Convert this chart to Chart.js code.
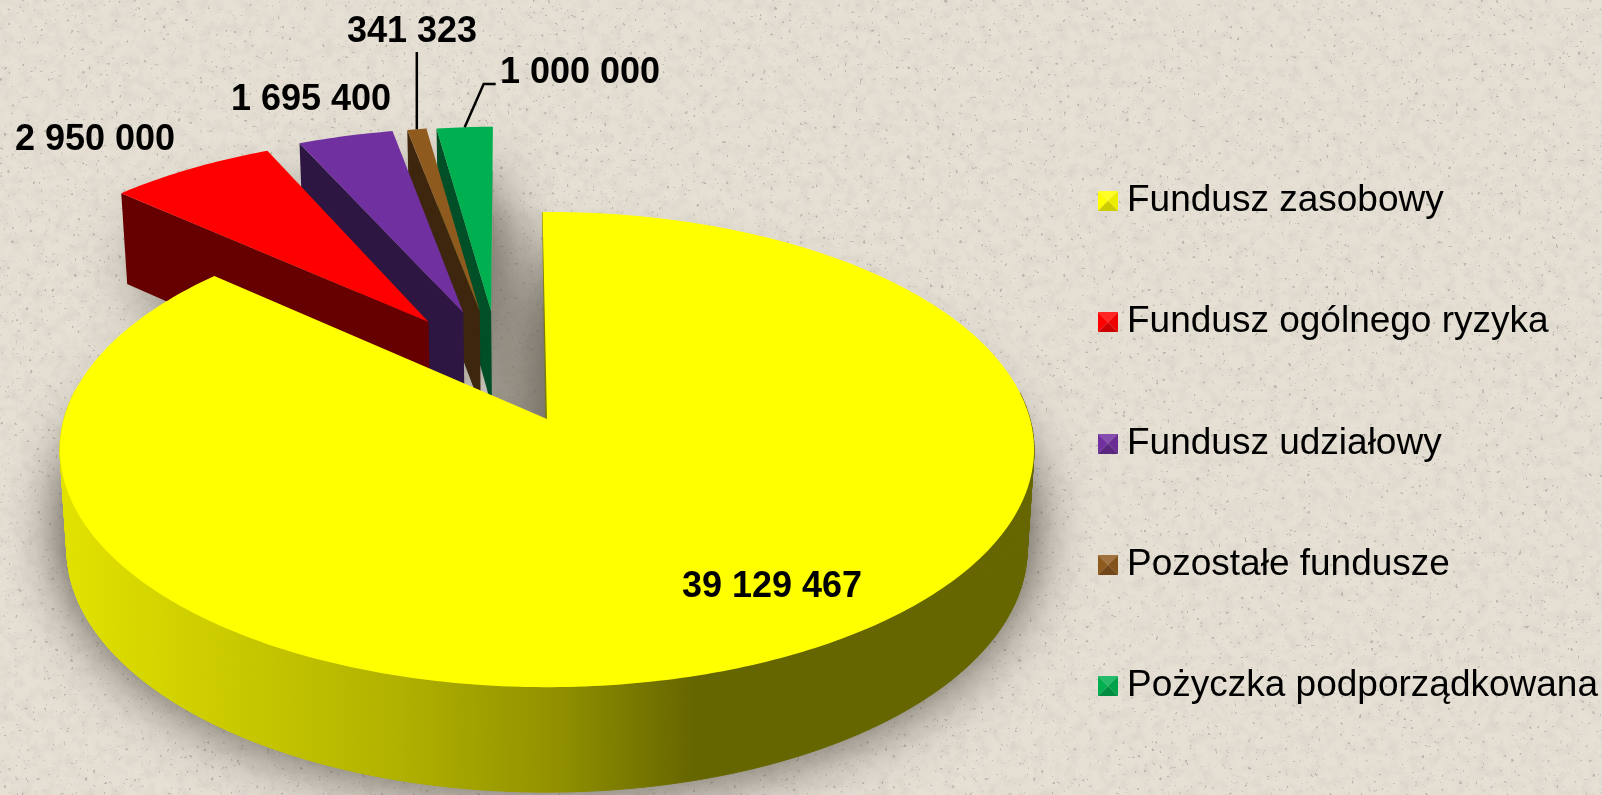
<!DOCTYPE html>
<html lang="pl"><head><meta charset="utf-8">
<style>
html,body{margin:0;padding:0;width:1602px;height:795px;overflow:hidden;background:#e3dcd1;}
#bg{position:absolute;left:0;top:0;width:1602px;height:795px;}
#wrap{position:absolute;left:0;top:0;width:1602px;height:795px;}
</style>
<script src="https://cdn.jsdelivr.net/npm/chart.js@4/dist/chart.umd.min.js"></script>
</head><body>
<svg id="bg" xmlns="http://www.w3.org/2000/svg" width="1602" height="795">
<filter id="mott" x="0" y="0" width="100%" height="100%">
<feTurbulence type="fractalNoise" baseFrequency="0.09" numOctaves="4" seed="7"/>
<feColorMatrix type="matrix" values="0 0 0 0 0.45  0 0 0 0 0.42  0 0 0 0 0.37  1.4 0 0 0 -0.58"/>
</filter>
<filter id="spk" x="0" y="0" width="100%" height="100%">
<feTurbulence type="fractalNoise" baseFrequency="0.27" numOctaves="2" seed="21"/>
<feColorMatrix type="matrix" values="0 0 0 0 0.3  0 0 0 0 0.28  0 0 0 0 0.24  12 0 0 0 -8.4"/>
</filter>
<rect width="1602" height="795" fill="#e5dfd4"/>
<rect width="1602" height="795" filter="url(#mott)" opacity="0.3"/>
<rect width="1602" height="795" filter="url(#spk)" opacity="0.5"/>
</svg>
<div id="wrap"><canvas id="c" width="1602" height="795"></canvas></div>
<script>
const categories = ['Fundusz zasobowy','Fundusz ogólnego ryzyka','Fundusz udziałowy','Pozostałe fundusze','Pożyczka podporządkowana'];
const values = [39129467, 2950000, 1695400, 341323, 1000000];
const valueLabels = ['39 129 467','2 950 000','1 695 400','341 323','1 000 000'];

const topColors  = ['#ffff00','#ff0000','#7030a0','#8f5a1e','#00b050'];
const wallColors = ['#666600','#660000','#2d1642','#3e250d','#004f26'];
const explode = [[0,0],[-0.259,0.439],[-0.184,0.483],[-0.148,0.49],[-0.123,0.49]];
const labelXY = [[772,597],[95,150],[311,110],[412,42],[580,83]];

const VIEW = {x0:547,y0:419,r:483,rs:233.7,p:0.1285,taper:0.014};
function proj(u,v,z){
  const w = 1+VIEW.p*v, h = 98.3-6.7*v;
  return [VIEW.x0+VIEW.r*u/w*(1-VIEW.taper*z), VIEW.y0-VIEW.rs*v/w+z*h];
}
function bevelMarker(color){
  const c=document.createElement('canvas');c.width=20;c.height=20;
  const g=c.getContext('2d');const n=20,m=10;
  const shade=(col,a,k)=>{g.fillStyle=col;g.fill();g.fillStyle=k;g.globalAlpha=a;g.fill();g.globalAlpha=1;};
  const tri=(pts,k,a)=>{g.beginPath();g.moveTo(...pts[0]);g.lineTo(...pts[1]);g.lineTo(...pts[2]);g.closePath();shade(color,a,k);};
  tri([[0,0],[n,0],[m,m]],'#ffffff',0.15);
  tri([[0,0],[0,n],[m,m]],'#000000',0.0);
  tri([[n,0],[n,n],[m,m]],'#000000',0.07);
  tri([[0,n],[n,n],[m,m]],'#000000',0.2);
  return c;
}
const markers = topColors.map(bevelMarker);

const pie3d = {
  id:'pie3d',
  afterLayout(chart){ chart.legend.left += 11; chart.legend.right += 11; },
  beforeDatasetDraw(chart,args){
    const ctx=chart.ctx, arcs=chart.getDatasetMeta(0).data;
    const slices=arcs.map((a,i)=>{
      const R=a.outerRadius, s=a.startAngle, e=a.endAngle;
      const pt=(ang,rr,z)=>proj(rr*Math.cos(ang)+explode[i][0],-rr*Math.sin(ang)+explode[i][1],z);
      const n=Math.max(6,Math.ceil((e-s)/0.015)), rim=[];
      for(let k=0;k<=n;k++) rim.push(s+(e-s)*k/n);
      return {i,s,e,pt,rim,R};
    });
    const path=(pts)=>{ctx.beginPath();pts.forEach((p,k)=>k?ctx.lineTo(p[0],p[1]):ctx.moveTo(p[0],p[1]));ctx.closePath();};
    const face=(sl,z)=>[sl.pt(0,0,z)].concat(sl.rim.map(a=>sl.pt(a,1,z)));

    // soft drop shadow
    ctx.save();
    slices.forEach(sl=>{
      ctx.shadowColor='rgba(70,65,55,0.72)';ctx.shadowBlur=56;ctx.shadowOffsetX=0;ctx.shadowOffsetY=5;
      path(face(sl,1));ctx.fillStyle='#a39d90';ctx.fill();
      path(face(sl,0.5));ctx.fill();
    });
    ctx.restore();

    // wedge shadow in the pie gap
    const a=proj(-0.125,1.07,0), b=proj(0,1.07,0), c0=proj(0,0,0), d=proj(-0.125,-0.08,0);
    const gr=ctx.createLinearGradient(0,a[1],0,c0[1]);
    gr.addColorStop(0,'rgba(120,114,102,0)');gr.addColorStop(0.1,'rgba(120,114,102,0.12)');gr.addColorStop(0.5,'rgba(120,114,102,0.42)');gr.addColorStop(1,'rgba(120,114,102,0.62)');
    path([a,b,c0,d]);ctx.fillStyle=gr;ctx.fill();

    // back to front: small slices from the right, the big slice last
    [4,3,2,1,0].forEach(i=>{
      const sl=slices[i];
      if(i===0){
        const left=proj(-1,0,0), right=proj(1,0,0);
        const wg=ctx.createLinearGradient(left[0],0,right[0],0);
        wg.addColorStop(0,'#e2e200');wg.addColorStop(0.25,'#bfbf00');wg.addColorStop(0.35,'#b0b000');
        wg.addColorStop(0.51,'#919100');wg.addColorStop(0.65,'#666600');wg.addColorStop(1,'#666600');
        ctx.fillStyle=wg;ctx.strokeStyle=wg;ctx.lineWidth=1;
        for(let k=0;k<sl.rim.length-1;k++){
          if(-Math.sin(sl.rim[k])>0.12) continue;
          path([sl.pt(sl.rim[k],1,0),sl.pt(sl.rim[k+1],1,0),sl.pt(sl.rim[k+1],1,1),sl.pt(sl.rim[k],1,1)]);
          ctx.fill();ctx.stroke();
        }
        ctx.beginPath();const q=sl.pt(sl.s,1,0),o=sl.pt(0,0,0);ctx.moveTo(q[0]+0.5,q[1]);ctx.lineTo(o[0]-0.5,o[1]+2);
        ctx.strokeStyle='#7d7d00';ctx.lineWidth=2;ctx.stroke();
      }else{
        path([sl.pt(0,0,0),sl.pt(sl.s,1,0),sl.pt(sl.s,1,1),sl.pt(0,0,1)]);
        ctx.fillStyle=wallColors[i];ctx.fill();
      }
      path(face(sl,0));ctx.fillStyle=topColors[i];ctx.fill();
    });

    // value labels
    ctx.save();
    ctx.fillStyle='#000';ctx.font='bold 36px "Liberation Sans", Arial, sans-serif';
    ctx.textAlign='center';ctx.textBaseline='alphabetic';
    valueLabels.forEach((t,i)=>ctx.fillText(t,labelXY[i][0],labelXY[i][1]));
    ctx.strokeStyle='#000';ctx.lineWidth=2.5;
    const mid=i=>slices[i].pt((slices[i].s+slices[i].e)/2,1,0);
    let m=mid(3);
    ctx.beginPath();ctx.moveTo(m[0],m[1]);ctx.lineTo(m[0],labelXY[3][1]+10);ctx.stroke();
    m=mid(4);
    ctx.beginPath();ctx.moveTo(m[0],m[1]);ctx.lineTo(m[0]+19,labelXY[4][1]+1);ctx.lineTo(m[0]+31,labelXY[4][1]+1);ctx.stroke();
    ctx.restore();
    return false;
  }
};

new Chart(document.getElementById('c'),{
  type:'pie',
  data:{labels:categories,datasets:[{data:values,backgroundColor:topColors,borderWidth:0}]},
  plugins:[pie3d],
  options:{
    responsive:false,animation:false,rotation:-0.6,
    layout:{padding:{top:92,right:5,bottom:0,left:0}},
    plugins:{
      tooltip:{enabled:false},
      legend:{
        position:'right',align:'center',
        labels:{
          color:'#000',font:{family:'"Liberation Sans", Arial, sans-serif',size:37},
          usePointStyle:true,boxWidth:1,boxHeight:20,padding:84.3,
          generateLabels:(chart)=>categories.map((t,i)=>({text:t,fontColor:'#000',pointStyle:markers[i],hidden:false,index:i,datasetIndex:0,lineWidth:0,strokeStyle:'transparent',fillStyle:topColors[i]}))
        }
      }
    }
  }
});
</script>
</body></html>
